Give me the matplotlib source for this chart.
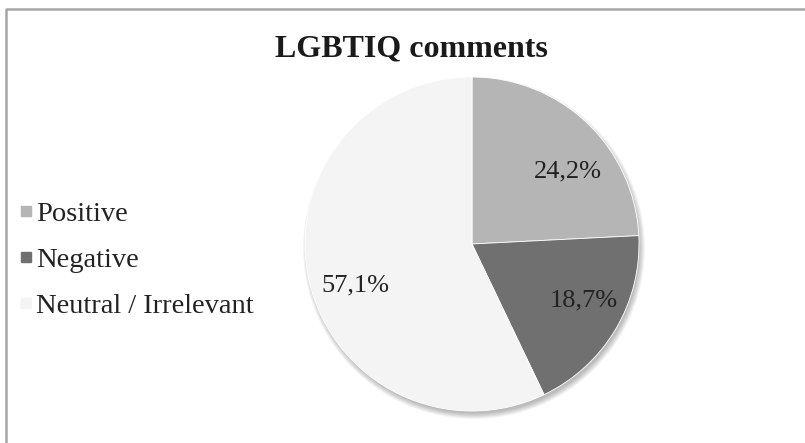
import matplotlib.pyplot as plt
from matplotlib.lines import Line2D
from matplotlib.patches import Circle

plt.rcParams['font.family'] = ['Liberation Serif', 'DejaVu Serif']

labels = ["Positive", "Negative", "Neutral / Irrelevant"]
values = [24.2, 18.7, 57.1]
colors = ["#b5b5b5", "#707070", "#f4f4f4"]
# label spots in pixel coords (x, y from top)
label_pos = [(568, 171), (584, 300), (355, 285)]

W, H = 805, 443
fig = plt.figure(figsize=(W / 100, H / 100), dpi=100)
ax = fig.add_axes([0, 0, 1, 1])

cx, cy, r = 472, H - 244, 167

# soft shadow
for k in range(8):
    ax.add_patch(Circle((cx + 2, cy - 4), r + 4 - k * 0.8, color='#000000',
                        alpha=0.035, lw=0, zorder=1))

wedges, _ = ax.pie(values, colors=colors, startangle=90, counterclock=False,
                   center=(cx, cy), radius=r, frame=True,
                   wedgeprops=dict(linewidth=0.6, edgecolor='white', zorder=2))
ax.set_xlim(0, W)
ax.set_ylim(0, H)
ax.set_aspect('equal')
ax.axis('off')

for v, (px, py) in zip(values, label_pos):
    ax.text(px, H - py, f"{v:.1f}%".replace('.', ','), ha='center', va='center',
            fontsize=19, color='#222222', zorder=5)

ax.text(411, H - 49, "LGBTIQ comments", ha='center', va='center',
        fontsize=23, fontweight='bold', color='#1a1a1a')

handles = [Line2D([], [], marker='s', ls='', markersize=7, markerfacecolor=c,
                  markeredgecolor=c) for c in colors]
leg = ax.legend(handles, labels, loc='center left', bbox_to_anchor=(19 / W, (H - 260) / H),
                frameon=False, fontsize=20.5, handlelength=0.5, handletextpad=0.1,
                labelspacing=0.72, borderaxespad=0, borderpad=0)
for t in leg.get_texts():
    t.set_color('#222222')

# border (only top and left visible)
ax.plot([6, 6, W], [0, H - 9, H - 9], color='#a6a6a6', lw=1.8,
        solid_capstyle='butt', clip_on=False)

fig.savefig("out.png", dpi=100)
